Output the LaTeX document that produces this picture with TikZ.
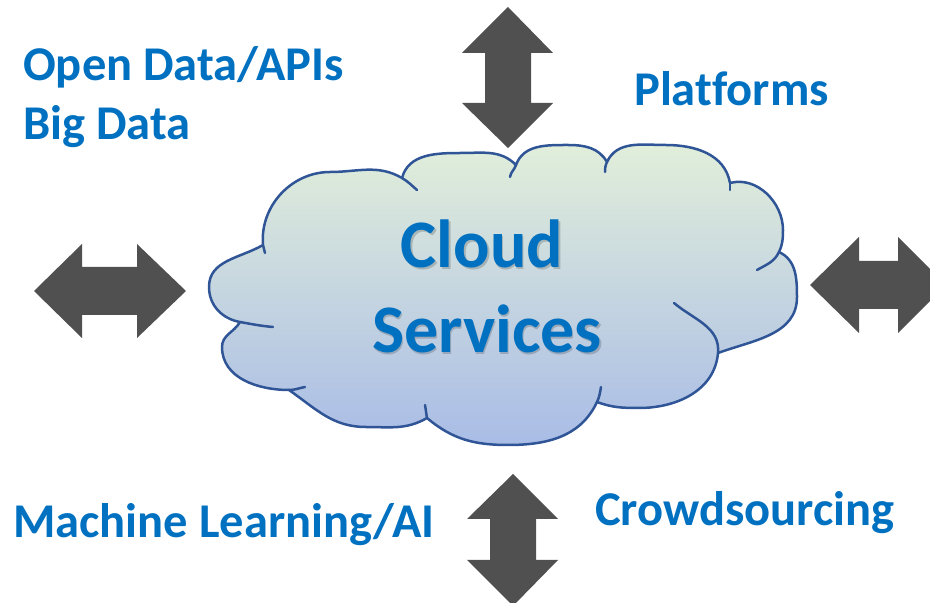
\documentclass[tikz,border=0pt]{standalone}
\usepackage{fontspec}
\setmainfont{Carlito}[Ligatures=NoCommon]
\usepackage{tikz}
\usetikzlibrary{calc}
\definecolor{labelblue}{HTML}{0070C0}
\definecolor{cloudline}{HTML}{2F5597}
\definecolor{arrowgray}{HTML}{505050}
\definecolor{cloudtop}{HTML}{E2EFDA}
\definecolor{cloudmid}{HTML}{B9CBE3}
\definecolor{cloudbot}{HTML}{A9BCE6}
\tikzset{
  sidelabel/.style={anchor=base west,inner sep=0pt,text=labelblue,font=\fontsize{48.5}{58}\selectfont\bfseries},
  cloudtitle/.style={anchor=base,inner sep=0pt,text=labelblue,font=\fontsize{68}{82}\selectfont\bfseries},
  titleshadow/.style={anchor=base,inner sep=0pt,text=black,opacity=0.18,font=\fontsize{68}{82}\selectfont\bfseries},
  blockarrow/.style={fill=arrowgray,draw=none},
  cloudedge/.style={draw=cloudline,line width=2.5pt,line cap=round,line join=round}
}

\begin{document}
\begin{tikzpicture}[x=1pt,y=1pt]
  \clip (0,0) rectangle (930,603);
  % cloud body
  \path[cloudedge,top color=cloudtop,middle color=cloudmid,bottom color=cloudbot]
    (263,358) to[out=95,in=180] (330,431) to[out=0,in=150] (402,425)
    to[out=75,in=180] (461,450) to[out=0,in=135] (516,438)
    to[out=70,in=180] (568,458) to[out=0,in=120] (607,441)
    to[out=65,in=180] (666,458) to[out=0,in=100] (730,420)
    to[out=15,in=90] (783,373) to[out=-90,in=65] (779,351)
    to[out=-25,in=90] (797,306) to[out=-90,in=20] (718,250)
    to[out=-95,in=0] (639,195) to[out=180,in=-20] (597,201)
    to[out=-115,in=0] (508,158) to[out=180,in=-40] (427,185)
    to[out=-150,in=0] (366,176) to[out=180,in=-35] (289,213)
    to[out=180,in=-90] (222,256) to[out=90,in=-120] (240,281)
    to[out=170,in=-90] (209,316) to[out=90,in=-150] cycle;
  % inner curls
  \draw[cloudedge] (263,358) to[out=-85,in=95] (265,350);
  \draw[cloudedge] (402,425) to[out=-30,in=140] (417,413);
  \draw[cloudedge] (516,438) to[out=250,in=80] (510,426);
  \draw[cloudedge] (607,441) to[out=245,in=90] (605,431);
  \draw[cloudedge] (730,420) to[out=-80,in=95] (730,413);
  \draw[cloudedge] (779,351) to[out=-115,in=30] (757,333);
  \draw[cloudedge] (718,250) to[out=85,in=-40] (674,300);
  \draw[cloudedge] (597,201) to[out=65,in=-100] (601,216);
  \draw[cloudedge] (427,185) to[out=100,in=-80] (425,198);
  \draw[cloudedge] (289,213) to[out=0,in=190] (305,216);
  \draw[cloudedge] (240,281) to[out=-10,in=175] (273,276);
  % title
  \node[titleshadow] (cloudshadow) at (483.5,333.5) {Cloud};
  \node[titleshadow] (servshadow) at (488.5,248.5) {Services};
  \node[cloudtitle] (cloud) at (482,335) {Cloud};
  \node[cloudtitle] (services) at (487,250) {Services};
  % arrows
  \fill[blockarrow] (34,312) -- (82,359) -- (82,336) -- (137,336) -- (137,359) -- (186,312)
    -- (137,265) -- (137,288) -- (82,288) -- (82,265) -- cycle;
  \fill[blockarrow] (810,318) -- (859,366) -- (859,342) -- (898,342) -- (898,366) -- (946,318)
    -- (898,270) -- (898,294) -- (859,294) -- (859,270) -- cycle;
  \fill[blockarrow] (508,596) -- (553,550) -- (531,550) -- (531,500) -- (553,500) -- (508,455)
    -- (462,500) -- (485,500) -- (485,550) -- (462,550) -- cycle;
  \fill[blockarrow] (513,129) -- (558,84) -- (536,84) -- (536,43) -- (558,43) -- (513,-3)
    -- (467,43) -- (490,43) -- (490,84) -- (467,84) -- cycle;
  % labels
  \node[sidelabel] (opendata) at (23,522) {Open Data/APIs};
  \node[sidelabel] (bigdata) at (23,463) {Big Data};
  \node[sidelabel] (platforms) at (634,497) {Platforms};
  \node[sidelabel] (mlai) at (13,65) {Machine Learning/AI};
  \node[sidelabel] (crowd) at (595,77) {Crowdsourcing};
\end{tikzpicture}
\end{document}
